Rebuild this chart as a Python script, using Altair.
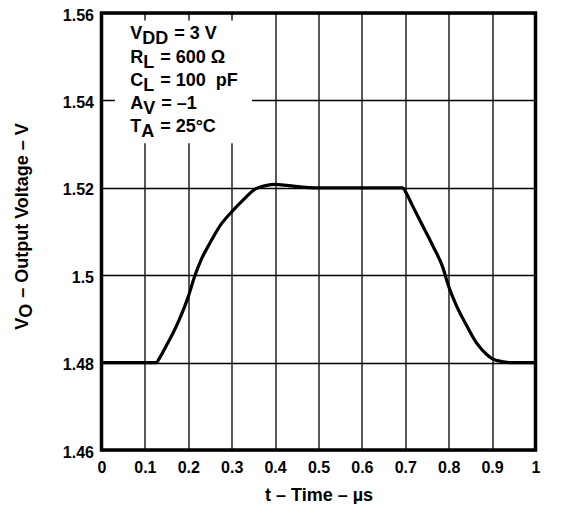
import altair as alt
import pandas as pd

# ---- data ----
t_us = [0.0, 0.10, 0.126, 0.134, 0.149, 0.164, 0.179, 0.200, 0.2135, 0.229, 0.249,
        0.273, 0.300, 0.326, 0.356, 0.378, 0.400, 0.431, 0.500, 0.600, 0.694, 0.700,
        0.717, 0.740, 0.763, 0.786, 0.800, 0.817, 0.840, 0.864, 0.887, 0.900, 0.925,
        0.940, 1.0]
v_out = [1.48, 1.48, 1.48, 1.4811, 1.4838, 1.4866, 1.4898, 1.4951, 1.4994, 1.5034, 1.5072,
         1.5113, 1.5145, 1.5172, 1.5198, 1.5205, 1.5208, 1.5205, 1.5200, 1.5200, 1.5200, 1.5192,
         1.5158, 1.5113, 1.5068, 1.5019, 1.4974, 1.4932, 1.4887, 1.4845, 1.4819, 1.4809, 1.4802,
         1.4800, 1.4800]

x_ticks = [0, 0.1, 0.2, 0.3, 0.4, 0.5, 0.6, 0.7, 0.8, 0.9, 1]
y_ticks = [1.46, 1.48, 1.50, 1.52, 1.54, 1.56]

NB = "\u00a0"  # non-breaking space (SVG collapses ordinary repeated spaces)
box_base = ["V", "R", "C", "A", "T"]
box_sub = ["DD", "L", "L", "V", "A"]
box_rest = ["= 3 V", "= 600 \u03a9", "= 100" + NB + NB + "pF", "= \u20131", "= 25\u00b0C"]

ytitle_base = "V"
ytitle_sub = "O"
ytitle_rest = "\u2013 Output Voltage \u2013 V"
xtitle = "t \u2013 Time \u2013 \u00b5s"

FONT = "Liberation Sans"

# Liberation Sans Bold advance widths (per em)
W = {" ": 0.278, NB: 0.278, "V": 0.667, "D": 0.722, "R": 0.722, "L": 0.611, "C": 0.722,
     "A": 0.722, "T": 0.611, "O": 0.778}


def width(s, size):
    return sum(W.get(ch, 0.6) for ch in s) * size


df = pd.DataFrame({"t": t_us, "v": v_out})
one = pd.DataFrame({"k": [0]})

xscale = alt.Scale(domain=[0, 1], nice=False)
yscale = alt.Scale(domain=[1.46, 1.56], nice=False, zero=False)

curve = alt.Chart(df).mark_line(color="black", strokeWidth=3.2, interpolate="monotone").encode(
    x=alt.X("t:Q", scale=xscale,
            axis=alt.Axis(values=x_ticks, format="~g", title=xtitle, labelFlush=False,
                          domain=False, ticks=False, grid=True, gridColor="black",
                          gridWidth=1.3, gridOpacity=1, labelPadding=9, titlePadding=11,
                          labelFontSize=16, labelFont=FONT, labelFontWeight="bold",
                          labelColor="black", titleFont=FONT, titleFontSize=18,
                          titleFontWeight="bold", titleColor="black")),
    y=alt.Y("v:Q", scale=yscale,
            axis=alt.Axis(values=y_ticks, format="~g", title=None, labelFlush=False,
                          domain=False, ticks=False, grid=True, gridColor="black",
                          gridWidth=1.3, gridOpacity=1, labelPadding=8, labelOffset=2,
                          labelFontSize=16, labelFont=FONT, labelFontWeight="bold",
                          labelColor="black")),
)

box = alt.Chart(one).mark_rect(color="white").encode(
    x=alt.datum(0.031), x2=alt.datum(0.347),
    y=alt.datum(1.5583), y2=alt.datum(1.5302),
)

layers = [box, curve]

BOX_FS = 18
GAP = 6  # gap between subscript and "="
x0 = 0.066
top = 1.5551
step = 0.00531
for i in range(len(box_base)):
    yv = top - i * step
    wb = width(box_base[i], BOX_FS)
    ws = width(box_sub[i], BOX_FS)
    common = dict(font=FONT, fontSize=BOX_FS, fontWeight="bold", color="black",
                  align="left", baseline="middle")
    layers.append(alt.Chart(one).mark_text(**common).encode(
        x=alt.datum(x0), y=alt.datum(yv), text=alt.value(box_base[i])))
    layers.append(alt.Chart(one).mark_text(dx=wb, dy=5, **common).encode(
        x=alt.datum(x0), y=alt.datum(yv), text=alt.value(box_sub[i])))
    layers.append(alt.Chart(one).mark_text(dx=wb + ws + GAP, **common).encode(
        x=alt.datum(x0), y=alt.datum(yv), text=alt.value(box_rest[i])))

# rotated y-axis title with subscript
YT_FS = 18
yt_x = -0.18
yt_y = 1.4875
wb = width(ytitle_base, YT_FS)
ws = width(ytitle_sub, YT_FS)
tcommon = dict(font=FONT, fontSize=YT_FS, fontWeight="bold", color="black",
               align="left", baseline="middle", angle=270)
layers.append(alt.Chart(one).mark_text(**tcommon).encode(
    x=alt.datum(yt_x), y=alt.datum(yt_y), text=alt.value(ytitle_base)))
layers.append(alt.Chart(one).mark_text(dx=wb, dy=4, **tcommon).encode(
    x=alt.datum(yt_x), y=alt.datum(yt_y), text=alt.value(ytitle_sub)))
layers.append(alt.Chart(one).mark_text(dx=wb + ws + 6, **tcommon).encode(
    x=alt.datum(yt_x), y=alt.datum(yt_y), text=alt.value(ytitle_rest)))

chart = alt.layer(*layers).properties(
    width=434, height=437,
    autosize=alt.AutoSizeParams(type="none"),
    padding={"left": 93.5, "top": 5, "right": 10, "bottom": 54},
    background="white",
).configure_view(stroke="black", strokeWidth=3.5)

chart.save("out.html", embed_options={"renderer": "svg", "actions": False})
